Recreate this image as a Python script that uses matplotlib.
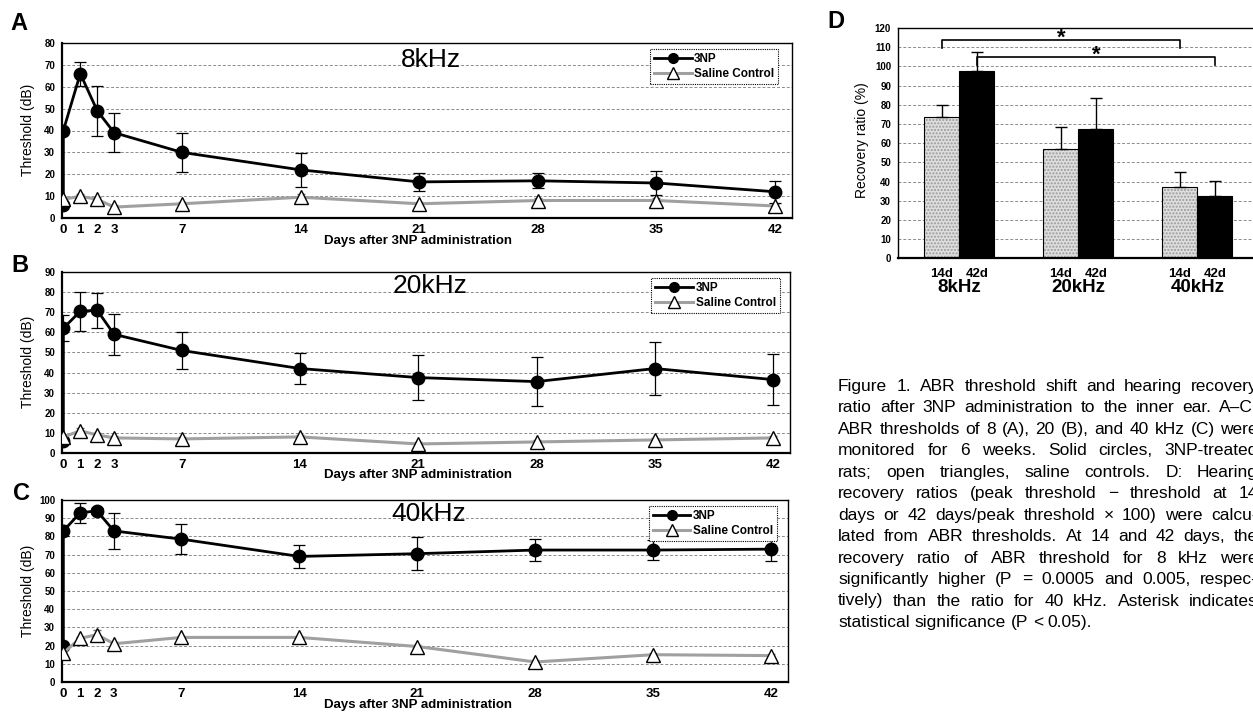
import matplotlib
matplotlib.use('Agg')
import matplotlib.pyplot as plt
from matplotlib.lines import Line2D
from matplotlib.transforms import IdentityTransform

plt.rcParams['font.family'] = ['Liberation Sans', 'DejaVu Sans']

W, H = 1253, 714

# ---------------- data ----------------
days = [0, 1, 2, 3, 7, 14, 21, 28, 35, 42]
np_days = [0, 0, 1, 2, 3, 7, 14, 21, 28, 35, 42]

a_np = [6, 40, 66, 49, 39, 30, 22, 16.5, 17, 16, 12]
a_np_err = [0, 0, 5.5, 11.5, 9, 9, 7.7, 4, 3.5, 5.6, 5]
a_sal = [8.5, 10, 8.5, 5, 6.5, 9.5, 6.5, 8, 8, 5.5]
a_sal_err = [1, 1, 1, 1, 1, 1.5, 1, 1, 1, 1]

b_np = [6, 62, 70.5, 71, 59, 51, 42, 37.5, 35.5, 42, 36.5]
b_np_err = [0, 6.5, 9.7, 8.7, 10.2, 9, 7.5, 11, 12, 13.4, 12.8]
b_sal = [8, 11, 9, 7.5, 7, 8, 4.5, 5.5, 6.5, 7.5]
b_sal_err = [1, 1.5, 1, 1, 1, 1, 1, 1, 1, 1]

c_np = [20, 83, 93, 94, 83, 78.5, 69, 70.5, 72.5, 72.5, 73]
c_np_err = [0, 3, 5.5, 1.5, 9.8, 8.2, 6.3, 9, 6.1, 5.7, 6.4]
c_sal = [16, 24, 26, 21, 24.5, 24.5, 19.5, 11, 15, 14.5]
c_sal_err = [1, 1, 2.5, 1, 1, 1, 1, 1, 1, 1]

groups = ['8kHz', '20kHz', '40kHz']
sub_labels = ['14d', '42d']
rec_14 = [73.7, 56.8, 37.2]
rec_14_err = [6.1, 11.8, 7.7]
rec_42 = [97.7, 67.4, 32.3]
rec_42_err = [9.6, 16.3, 8.1]

caption = [
    "Figure 1.  ABR threshold shift and hearing recovery",
    "ratio after 3NP administration to the inner ear. A\u2013C:",
    "ABR thresholds of 8 (A), 20 (B), and 40 kHz (C) were",
    "monitored for 6 weeks. Solid circles, 3NP-treated",
    "rats; open triangles, saline controls. D: Hearing",
    "recovery ratios (peak threshold \u2212 threshold at 14",
    "days or 42 days/peak threshold \u00d7 100) were calcu-",
    "lated from ABR thresholds. At 14 and 42 days, the",
    "recovery ratio of ABR threshold for 8 kHz were",
    "significantly higher (P = 0.0005 and 0.005, respec-",
    "tively) than the ratio for 40 kHz. Asterisk indicates",
    "statistical significance (P < 0.05).",
]

fig = plt.figure(figsize=(W / 100, H / 100), dpi=100)


def rect(l, t, r, b):
    return [l / W, 1 - b / H, (r - l) / W, (b - t) / H]


leg_handles = [
    Line2D([], [], color='black', lw=2.0, marker='o', ms=7, mfc='black', mec='black'),
    Line2D([], [], color='#a0a0a0', lw=2.2, marker='^', ms=8.5, mfc='white',
           mec='black', mew=1.0),
]


def line_panel(box, ymax, npv, npe, sal, sale, title, title_y, leg_anchor,
               letter, letter_xy, ylab_xy, xlab_xy):
    ax = fig.add_axes(rect(*box))
    ax.set_xlim(-0.08, 43)
    ax.set_ylim(0, ymax)
    ax.set_xticks(days)
    ax.set_yticks(range(0, ymax + 1, 10))
    for y in range(10, ymax, 10):
        ax.axhline(y, color='#8c8c8c', lw=0.7, ls=(0, (3, 2)), zorder=0)
    ax.errorbar(np_days, npv, yerr=npe, color='black', lw=2.0, marker='o',
                ms=9, mfc='black', mec='black', ecolor='black', elinewidth=0.9,
                capsize=4, capthick=0.9, zorder=3)
    ax.errorbar(days, sal, yerr=sale, color='#a0a0a0', lw=2.2, marker='^',
                ms=9.5, mfc='white', mec='black', mew=1.0, ecolor='#707070',
                elinewidth=0.8, capsize=3, capthick=0.8, zorder=4)
    ax.tick_params(axis='both', length=0)
    ax.tick_params(axis='x', labelsize=9.5, pad=4)
    ax.tick_params(axis='y', labelsize=7, pad=5)
    for lab in ax.get_xticklabels() + ax.get_yticklabels():
        lab.set_fontweight('bold')
    for s in ax.spines.values():
        s.set_color('black')
        s.set_linewidth(1.0)
    ax.spines['left'].set_linewidth(1.6)
    ax.spines['bottom'].set_linewidth(1.6)
    leg = ax.legend(leg_handles, ['3NP', 'Saline Control'], loc='upper right',
                    bbox_to_anchor=leg_anchor,
                    prop={'weight': 'bold', 'size': 8.5}, fancybox=False,
                    framealpha=1, edgecolor='black', handlelength=3.2,
                    borderpad=0.35, labelspacing=0.25, handletextpad=0.2,
                    borderaxespad=0)
    leg.get_frame().set_linestyle((0, (1, 1)))
    leg.get_frame().set_linewidth(0.8)
    ax.text(0.505, title_y, title, transform=ax.transAxes, ha='center',
            va='center', fontsize=19, zorder=5)
    fig.text(letter_xy[0] / W, 1 - letter_xy[1] / H, letter, fontsize=17,
             fontweight='bold', ha='center', va='center')
    fig.text(ylab_xy[0] / W, 1 - ylab_xy[1] / H, 'Threshold (dB)', fontsize=10,
             rotation=90, ha='center', va='center')
    fig.text(xlab_xy[0] / W, 1 - xlab_xy[1] / H, 'Days after 3NP administration',
             fontsize=9.5, fontweight='bold', ha='center', va='center')
    return ax


line_panel((62, 43, 792, 218), 80, a_np, a_np_err, a_sal, a_sal_err, '8kHz',
           0.903, (0.981, 0.966), 'A', (19, 23), (28, 130), (418, 241))
line_panel((62, 272, 790, 453), 90, b_np, b_np_err, b_sal, b_sal_err, '20kHz',
           0.923, (0.986, 0.967), 'B', (20, 265), (28, 362), (418, 475))
line_panel((62, 500, 788, 682), 100, c_np, c_np_err, c_sal, c_sal_err, '40kHz',
           0.923, (0.985, 0.967), 'C', (21, 493), (28, 591), (418, 705))

# ---------------- panel D ----------------
axd = fig.add_axes(rect(898, 28, 1257, 258.3))
xg = list(range(len(groups)))
bw = 0.294
x14 = [g - bw / 2 for g in xg]
x42 = [g + bw / 2 for g in xg]
axd.set_xlim(-0.515, 2.5)
axd.set_ylim(0, 120)
axd.set_yticks(range(0, 121, 10))
for y in range(10, 120, 10):
    axd.axhline(y, color='#8c8c8c', lw=0.7, ls=(0, (3, 2)), zorder=0)
# stippled light bars: light fill, grey dot hatch, black outline
axd.bar(x14, rec_14, width=bw, color='#dedede', edgecolor='#9a9a9a', lw=0,
        hatch='.....', zorder=2)
axd.bar(x14, rec_14, width=bw, facecolor='none', edgecolor='black', lw=0.8, zorder=2.5)
axd.bar(x42, rec_42, width=bw, color='black', edgecolor='black', lw=0.8, zorder=2)
axd.errorbar(x14, rec_14, yerr=[[0] * 3, rec_14_err], fmt='none', ecolor='black',
             elinewidth=1, capsize=4, capthick=1, zorder=3)
axd.errorbar(x42, rec_42, yerr=[[0] * 3, rec_42_err], fmt='none', ecolor='black',
             elinewidth=1, capsize=4, capthick=1, zorder=3)
# significance brackets
for xa, xb, yl, yt in [(x14[0], x14[2], 109.5, 114), (x42[0], x42[2], 100.7, 104.7)]:
    axd.plot([xa, xa, xb, xb], [yl, yt, yt, yl], color='black', lw=1.2, zorder=4,
             clip_on=False)
    axd.text((xa + xb) / 2, yt - 2.0, '*', ha='center', va='baseline', fontsize=16,
             fontweight='bold', zorder=5)
axd.set_xticks(x14 + x42)
axd.set_xticklabels(sub_labels[:1] * 3 + sub_labels[1:] * 3, fontsize=9.5,
                    fontweight='bold')
axd.tick_params(axis='both', length=0)
axd.tick_params(axis='x', pad=7)
axd.tick_params(axis='y', labelsize=7, pad=5)
for lab in axd.get_yticklabels():
    lab.set_fontweight('bold')
for g, name in zip(xg, groups):
    axd.text(g, -0.125, name, transform=axd.get_xaxis_transform(), ha='center',
             va='center', fontsize=13.5, fontweight='bold')
for s in axd.spines.values():
    s.set_color('black')
    s.set_linewidth(1.0)
axd.spines['bottom'].set_linewidth(1.6)
axd.spines['right'].set_visible(False)
fig.text(862 / W, 1 - 140 / H, 'Recovery ratio (%)', fontsize=10, rotation=90,
         ha='center', va='center')
fig.text(836 / W, 1 - 21 / H, 'D', fontsize=17, fontweight='bold', ha='center',
         va='center')

# ---------------- caption (justified) ----------------
renderer = fig.canvas.get_renderer()
cap_fs = 12.5
x_left, x_right = 838, 1258
base0, step = 391, 21.45
tmp = fig.text(0, 0, 'a a', fontsize=cap_fs, transform=IdentityTransform())
w_aa = tmp.get_window_extent(renderer).width
tmp.set_text('aa')
space_w = w_aa - tmp.get_window_extent(renderer).width
tmp.remove()
for i, line in enumerate(caption):
    yb = H - (base0 + i * step)
    words = line.split()
    texts = [fig.text(0, yb, w, fontsize=cap_fs, transform=IdentityTransform(),
                      ha='left', va='baseline') for w in words]
    widths = [t.get_window_extent(renderer).width for t in texts]
    if i < len(caption) - 1 and len(words) > 1:
        gap = (x_right - x_left - sum(widths)) / (len(words) - 1)
    else:
        gap = space_w
    x = x_left
    for t, w in zip(texts, widths):
        t.set_position((x, yb))
        x += w + gap

fig.savefig('out.png', dpi=100)
